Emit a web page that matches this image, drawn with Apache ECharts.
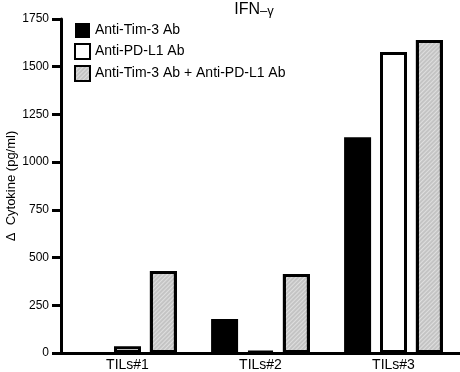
<!DOCTYPE html>
<html>
<head>
<meta charset="utf-8">
<script src="https://cdn.jsdelivr.net/npm/echarts@6/dist/echarts.min.js"></script>
<style>
html, body { margin: 0; padding: 0; background: #fff; }
#main { width: 460px; height: 372px; }
</style>
</head>
<body>
<div id="main"></div>
<script>
var categories = ['TILs#1', 'TILs#2', 'TILs#3'];
var tim3 = [0, 178, 1131];
var pdl1 = [35, 10, 1577];
var combo = [430, 414, 1640];
var seriesNames = ['Anti-Tim-3 Ab', 'Anti-PD-L1 Ab', 'Anti-Tim-3 Ab + Anti-PD-L1 Ab'];

var chart = echarts.init(document.getElementById('main'));
var font = 'Liberation Sans, Arial, sans-serif';

// fine diagonal stripes on the grey bars
var hatch = {
    symbol: 'rect',
    color: 'rgba(255,255,255,0.45)',
    dashArrayX: [1, 0],
    dashArrayY: [1, 2],
    rotation: -Math.PI / 4,
    symbolSize: 1
};

var option = {
    animation: false,
    title: {
        text: '{a|IFN}{b|–γ}',
        left: 254,
        top: 1,
        textAlign: 'center',
        padding: 0,
        textStyle: {
            rich: {
                a: { fontFamily: font, fontSize: 16, fontWeight: 'normal', color: '#000' },
                b: { fontFamily: font, fontSize: 13, fontWeight: 'normal', color: '#000', padding: [4, 0, 0, 0] }
            }
        }
    },
    legend: {
        orient: 'vertical',
        left: 74,
        top: 23,
        padding: 0,
        itemWidth: 15,
        itemHeight: 15,
        itemGap: 5,
        icon: 'rect',
        selectedMode: false,
        textStyle: { fontFamily: font, fontSize: 14, color: '#000', padding: [0, 0, 0, 0] },
        data: seriesNames
    },
    grid: { left: 61, right: 0, top: 19, bottom: 19, outerBoundsMode: 'none' },
    xAxis: {
        type: 'category',
        data: categories,
        axisLine: { lineStyle: { color: '#000', width: 3 } },
        axisTick: { show: false },
        axisLabel: { fontFamily: font, fontSize: 14, color: '#000', margin: 5 }
    },
    yAxis: {
        type: 'value',
        min: 0,
        max: 1750,
        interval: 250,
        name: 'Δ  Cytokine (pg/ml)',
        nameLocation: 'middle',
        nameGap: 43,
        nameMoveOverlap: false,
        nameTextStyle: { fontFamily: font, fontSize: 13, color: '#000' },
        axisLine: { show: true, lineStyle: { color: '#000', width: 3 } },
        axisTick: { show: true, length: 9, lineStyle: { color: '#000', width: 3 } },
        axisLabel: {
            fontFamily: font, fontSize: 12, color: '#000', margin: 12,
            formatter: function (v) { return String(v); }
        },
        splitLine: { show: false }
    },
    series: [
        {
            name: seriesNames[0],
            type: 'bar',
            data: tim3,
            barWidth: 27,
            barGap: '33%',
            itemStyle: { color: '#000', borderColor: '#000', borderWidth: 0 }
        },
        {
            name: seriesNames[1],
            type: 'bar',
            data: pdl1,
            barWidth: 27,
            barGap: '33%',
            itemStyle: { color: '#fff', borderColor: '#000', borderWidth: 3 }
        },
        {
            name: seriesNames[2],
            type: 'bar',
            data: combo,
            barWidth: 27,
            barGap: '33%',
            itemStyle: { color: '#c4c4c4', borderColor: '#000', borderWidth: 3, decal: hatch }
        }
    ]
};
chart.setOption(option);
</script>
</body>
</html>
